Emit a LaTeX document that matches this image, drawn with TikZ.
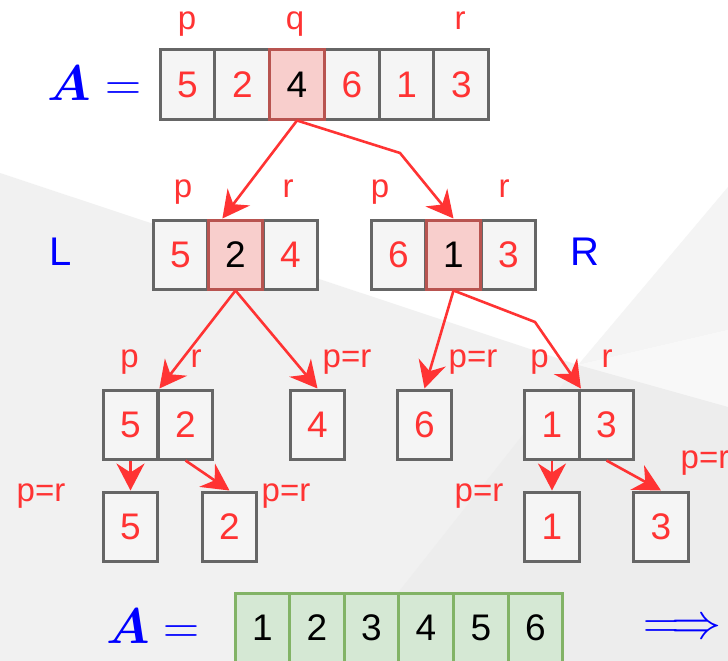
\documentclass[tikz,border=0pt]{standalone}
\usepackage{amsmath}
\usepackage[no-math]{fontspec}
\setmainfont{Liberation Sans}
\usetikzlibrary{arrows.meta}

\definecolor{myred}{HTML}{FF3333}
\definecolor{myblue}{HTML}{0000FF}
\definecolor{cellfill}{HTML}{F5F5F5}
\definecolor{cellline}{HTML}{666666}
\definecolor{pivfill}{HTML}{F8CECC}
\definecolor{pivline}{HTML}{B85450}
\definecolor{donefill}{HTML}{D5E8D4}
\definecolor{doneline}{HTML}{82B366}
\definecolor{bggray}{HTML}{F1F1F1}
\definecolor{bgdark}{HTML}{EDEDED}
\definecolor{bgright}{HTML}{F4F4F4}
\definecolor{bglight}{HTML}{F8F8F8}

\begin{document}
\begin{tikzpicture}[x=1pt,y=-1pt,
  cell/.style={draw=cellline,fill=cellfill,line width=3pt,minimum width=54.8pt,minimum height=69pt,inner sep=0pt,text=myred,font=\fontsize{37}{37}\selectfont},
  pivot/.style={cell,draw=pivline,fill=pivfill,text=black},
  done/.style={cell,draw=doneline,fill=donefill,text=black},
  lbl/.style={text=myred,font=\fontsize{33}{33}\selectfont,anchor=base,inner sep=0pt},
  side/.style={text=myblue,font=\fontsize{40}{40}\selectfont,inner sep=0pt},
  big/.style={text=myblue,font=\fontsize{24.88}{25}\selectfont,scale=2.01,inner sep=0pt},
  link/.style={draw=myred,line width=2.6pt,-{Stealth[length=27pt,width=28pt,inset=9pt]}}]
\useasboundingbox (0,0) rectangle (728,661);
% background
\fill[white] (0,0) rectangle (728,661);
\fill[bggray] (0,173) -- (578,365) -- (728,407) -- (728,661) -- (0,661) -- cycle;
\fill[bgright] (728,187) -- (578,365) -- (728,330) -- cycle;
\fill[bglight] (578,365) -- (728,330) -- (728,407) -- cycle;
\fill[bgdark] (578,365) -- (728,407) -- (728,661) -- (344,661) -- cycle;

% whole array
\draw (94.5,100) node[big,anchor=base](atop) {$\boldsymbol{A} =$};
\draw (187.5,84.5) node[cell](a1) {5};
\draw (242.3,84.5) node[cell](a2) {2};
\draw (351.8,84.5) node[cell](a4) {6};
\draw (406.6,84.5) node[cell](a5) {1};
\draw (461.3,84.5) node[cell](a6) {3};
\draw (297,84.5) node[pivot](a3) {4};
\draw (187,30) node[lbl](ap) {p};
\draw (295,30) node[lbl](aq) {q};
\draw (460,30) node[lbl](ar) {r};

% left and right halves
\draw (61,252) node[side](lname) {L};
\draw (585,252) node[side](rname) {R};
\draw (180.5,254.5) node[cell](l1) {5};
\draw (290.5,254.5) node[cell](l3) {4};
\draw (235.5,254.5) node[pivot](l2) {2};
\draw (398.5,254.5) node[cell](r1) {6};
\draw (508.5,254.5) node[cell](r3) {3};
\draw (453.5,254.5) node[pivot](r2) {1};
\draw (183,197) node[lbl](lp) {p};
\draw (288,197) node[lbl](lr) {r};
\draw (380,197) node[lbl](rp) {p};
\draw (504,197) node[lbl](rr) {r};

% third row
\draw (130.5,424.5) node[cell](c1) {5};
\draw (185.5,424.5) node[cell](c2) {2};
\draw (317.5,424.5) node[cell](c3) {4};
\draw (424.5,424.5) node[cell](c4) {6};
\draw (552,424.5) node[cell](c5) {1};
\draw (606.5,424.5) node[cell](c6) {3};
\draw (129.5,367) node[lbl](cp1) {p};
\draw (196,367) node[lbl](cr1) {r};
\draw (347,367) node[lbl](cpr3) {p=r};
\draw (473,367) node[lbl](cpr4) {p=r};
\draw (539.5,367) node[lbl](cp5) {p};
\draw (607,367) node[lbl](cr5) {r};

% single cells
\draw (130.5,526.5) node[cell](d1) {5};
\draw (229.5,526.5) node[cell](d2) {2};
\draw (552,526.5) node[cell](d3) {1};
\draw (661,526.5) node[cell](d4) {3};
\draw (41,501) node[lbl](dpr1) {p=r};
\draw (286,501) node[lbl](dpr2) {p=r};
\draw (479,501) node[lbl](dpr3) {p=r};
\draw (705,468) node[lbl](dpr4) {p=r};

% sorted array
\draw (153,643) node[big,anchor=base](abot) {$\boldsymbol{A} =$};
\draw (262.5,627.5) node[done](s1) {1};
\draw (317,627.5) node[done](s2) {2};
\draw (371.5,627.5) node[done](s3) {3};
\draw (426,627.5) node[done](s4) {4};
\draw (481,627.5) node[done](s5) {5};
\draw (535.5,627.5) node[done](s6) {6};
\draw (682.5,629) node[big](imp) {$\Longrightarrow$};

% arrows
\coordinate (k1) at (400,153);
\coordinate (k2) at (535,322);
\draw[link] (a3.south) -- (l2.110);
\draw[link] (a3.south) -- (k1) -- (r2.north);
\draw[link] (l2.south) -- (c1.north east);
\draw[link] (l2.south) -- (c3.north);
\draw[link] (r2.south) -- (c4.north);
\draw[link] (r2.south) -- (k2) -- (c5.north east);
\draw[link] (c1.south) -- (d1.north);
\draw[link] (c2.south) -- (d2.north);
\draw[link] (c5.south) -- (d3.north);
\draw[link] (c6.south) -- (d4.north);
\end{tikzpicture}
\end{document}
